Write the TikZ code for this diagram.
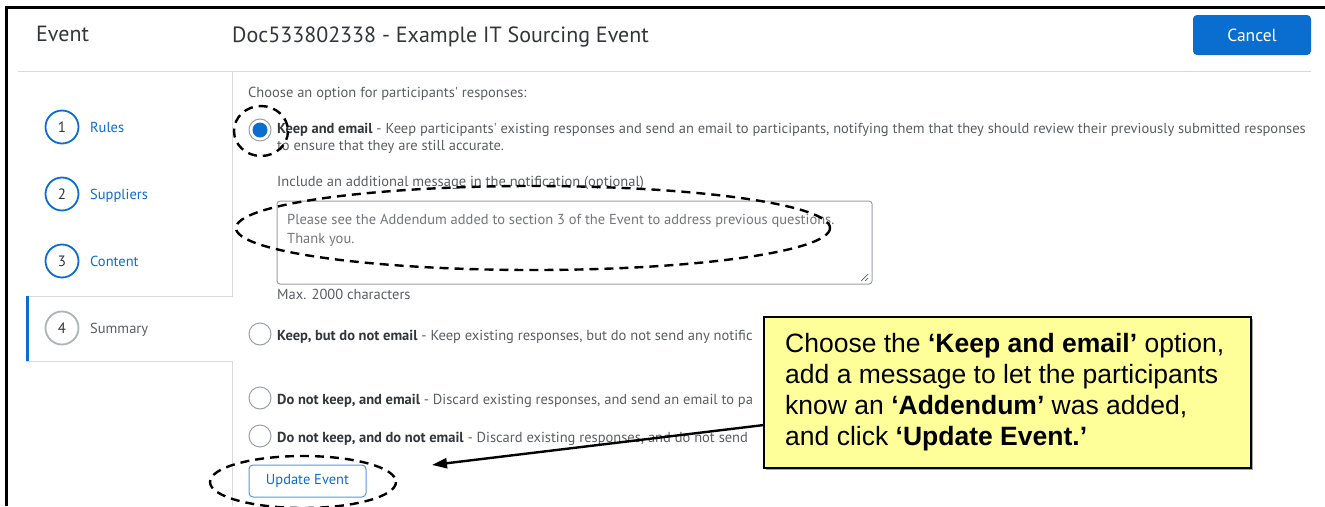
\documentclass[tikz,border=0pt]{standalone}
\usepackage{fontspec}
\usetikzlibrary{arrows.meta}
\newfontfamily\uifont{PT Sans}
\newfontfamily\callfont{Liberation Sans}
\definecolor{sapblue}{HTML}{0A6ED1}
\definecolor{uigray}{HTML}{5A5E62}
\definecolor{uidark}{HTML}{32363A}
\definecolor{linegray}{HTML}{D9D9D9}
\definecolor{ringgray}{HTML}{9AA0A6}
\definecolor{callyellow}{HTML}{FFFF99}
\tikzset{
  ui/.style={font=\uifont\fontsize{14.5}{17}\selectfont, text=uigray, inner sep=0pt, anchor=base west},
  side/.style={font=\uifont\fontsize{14.5}{17}\selectfont, inner sep=0pt, anchor=base west},
  numring/.style={circle, draw=sapblue, line width=1.8pt, minimum size=33pt, inner sep=0pt, text=uidark, font=\uifont\fontsize{15}{17}\selectfont},
  radio/.style={circle, draw=ringgray, line width=1pt, minimum size=22pt, inner sep=0pt, fill=white},
  sep/.style={draw=linegray, line width=1pt},
  ring/.style={draw=black, line width=2.4pt, dash pattern=on 9pt off 6pt},
  calltext/.style={font=\callfont\fontsize{26.5}{31}\selectfont, inner sep=0pt, anchor=base west, text=black},
}
\begin{document}
\begin{tikzpicture}[x=1pt,y=-1pt]
\useasboundingbox (0,0) rectangle (1325,506);
\fill[white] (0,0) rectangle (1325,506);
% outer frame
\draw[line width=3pt] (6,506) -- (6,7) -- (1325,7);
% header
\node[font=\uifont\fontsize{22}{25}\selectfont, text=uidark, inner sep=0pt, anchor=base west] (evt) at (36,41) {Event};
\node[font=\uifont\fontsize{22}{25}\selectfont, text=uidark, inner sep=0pt, anchor=base west] (title) at (232,42) {Doc533802338 - Example IT Sourcing Event};
\node[fill=sapblue, rounded corners=4pt, minimum width=118pt, minimum height=40pt, inner sep=0pt, text=white, font=\uifont\fontsize{17.5}{20}\selectfont] (cancel) at (1252,35) {Cancel};
% separators
\draw[sep] (18,71) -- (1311,71);
\draw[sep] (232,71) -- (232,296) -- (26,296);
\draw[sep] (26,361) -- (232,361) -- (232,506);
\draw[sapblue, line width=3pt] (27.5,296) -- (27.5,361);
% sidebar
\node[numring] (n1) at (62,127) {1};
\node[numring] (n2) at (62,194) {2};
\node[numring] (n3) at (62,261) {3};
\node[numring, draw=ringgray!80] (n4) at (62,328) {4};
\node[side, text=sapblue] (l1) at (90,132) {Rules};
\node[side, text=sapblue] (l2) at (90,199) {Suppliers};
\node[side, text=sapblue] (l3) at (90,266) {Content};
\node[side, text=uigray] (l4) at (90,333) {Summary};
% content
\node[ui] (choose) at (248,97) {Choose an option for participants' responses:};
\node[radio] (r1) at (260,130) {};
\fill[sapblue] (r1.center) circle (7.5pt);
\node[ui] (t1a) at (277,133) {\textcolor{uidark}{\bfseries Keep and email} - Keep participants' existing responses and send an email to participants, notifying them that they should review their previously submitted responses};
\node[ui] (t1b) at (277,150) {to ensure that they are still accurate.};
\node[ui] (incl) at (277,186) {Include an additional message in the notification (optional)};
\draw[draw=ringgray, line width=1pt, rounded corners=3pt] (277,201) rectangle (872,284);
\node[ui, text=uigray!85] (msg1) at (287,224) {Please see the Addendum added to section 3 of the Event to address previous questions.};
\node[ui, text=uigray!85] (msg2) at (287,243) {Thank you.};
\draw[uigray, line width=0.7pt] (861,281) -- (868,274) (865,281) -- (868,278);
\node[ui] (max) at (277,299) {Max. 2000 characters};
\node[radio] (r2) at (260,334) {};
\node[radio] (r3) at (260,398) {};
\node[radio] (r4) at (260,436) {};
\begin{scope}
\clip (270,300) rectangle (763,460);
\node[ui] (t2) at (277,340) {\textcolor{uidark}{\bfseries Keep, but do not email} - Keep existing responses, but do not send any notific};
\node[ui] (t3) at (277,404) {\textcolor{uidark}{\bfseries Do not keep, and email} - Discard existing responses, and send an email to pa};
\node[ui] (t4) at (277,442) {\textcolor{uidark}{\bfseries Do not keep, and do not email} - Discard existing responses, and do not send};
\end{scope}
\node[draw=sapblue!70, line width=1pt, rounded corners=4pt, minimum width=117pt, minimum height=32pt, inner sep=0pt, fill=white, text=sapblue, font=\uifont\fontsize{14.5}{17}\selectfont] (upd) at (307.5,481) {Update Event};
% dashed rings
\draw[ring] (261,131) ellipse [x radius=27, y radius=25];
\draw[ring] (533,228) ellipse [x radius=297, y radius=42];
\draw[ring] (303,482) ellipse [x radius=93, y radius=26];
% callout
\fill[black!35] (766,319) rectangle (1253,470);
\node[draw=black, line width=2.2pt, fill=callyellow, minimum width=487pt, minimum height=151pt, inner sep=0pt, anchor=north west] (callout) at (763,316) {};
\node[calltext] (c1) at (785,352) {Choose the \textbf{‘Keep and email’} option,};
\node[calltext] (c2) at (785,383) {add a message to let the participants};
\node[calltext] (c3) at (785,414) {know an \textbf{‘Addendum’} was added,};
\node[calltext] (c4) at (785,445) {and click \textbf{‘Update Event.’}};
\coordinate (astart) at (764,425);
\coordinate (aend) at (432,465);
\draw[line width=2.4pt, -{Triangle[length=15pt,width=10pt]}] (astart) -- (aend);
\end{tikzpicture}
\end{document}
